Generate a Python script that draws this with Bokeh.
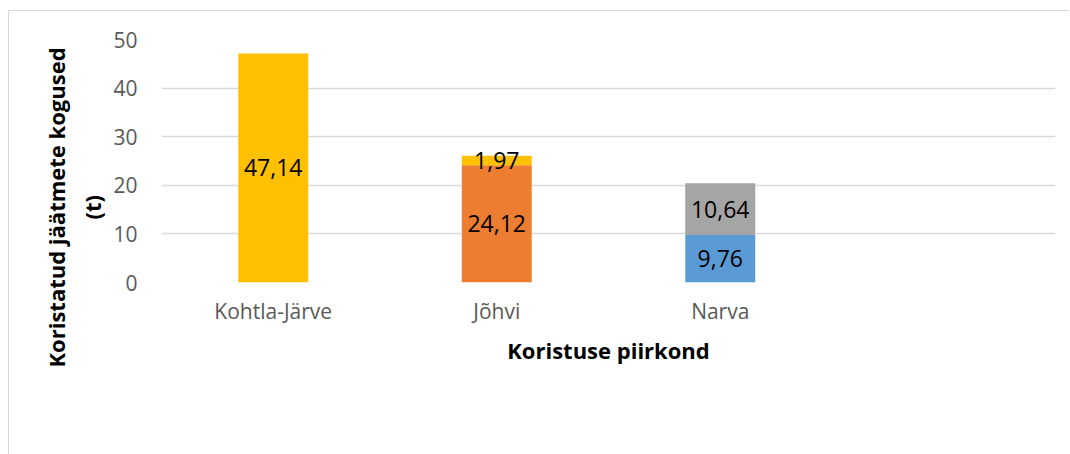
import numpy as np
from bokeh.plotting import figure
from bokeh.models import (ColumnDataSource, FactorRange, Range1d, FixedTicker,
                          Legend, LegendItem, LabelSet, Title)
from bokeh.core.properties import value
from bokeh.embed import file_html
from bokeh.resources import INLINE

# ---- data ----
categories = ["Kohtla-Järve", "Jõhvi", "Narva", " "]
years = ["2013", "2014", "2015", "2017"]
v2013 = [0, 0, 9.76, 0]
v2014 = [0, 24.12, 0, 0]
v2015 = [0, 0, 10.64, 0]
v2017 = [47.14, 1.97, 0, 0]
colors = ["#5B9BD5", "#ED7D31", "#A5A5A5", "#FFC000"]
y_ticks = [0, 10, 20, 30, 40, 50]
y_title = "Koristatud jäätmete kogused"
y_unit = "(t)"
x_title = "Koristuse piirkond"

series = [v2013, v2014, v2015, v2017]
data = {"cat": categories}
for y, s in zip(years, series):
    data[y] = s
src = ColumnDataSource(data)

FONT = "Open Sans"

p = figure(x_range=FactorRange(*categories, range_padding=0),
           y_range=Range1d(0, 50),
           frame_width=894, frame_height=243,
           output_backend="svg", toolbar_location=None,
           min_border_left=152, min_border_right=14,
           min_border_top=28, min_border_bottom=171)
p.styles = {"border-top": "1px solid #d9d9d9", "border-left": "1px solid #d9d9d9",
            "margin-top": "10px", "margin-left": "8px"}
p.outline_line_color = None
p.background_fill_color = "white"
p.border_fill_color = "white"

renderers = p.vbar_stack(years, x="cat", width=0.313, color=colors,
                         line_color=None, source=src)

# data labels
lab_x, lab_y, lab_t = [], [], []
bottom = np.zeros(len(categories))
for s in series:
    arr = np.array(s, dtype=float)
    for i, v in enumerate(arr):
        if v > 0:
            lab_x.append(categories[i])
            lab_y.append(bottom[i] + v / 2)
            lab_t.append(f"{v:.2f}".replace(".", ","))
    bottom += arr
lsrc = ColumnDataSource(dict(x=lab_x, y=lab_y, t=lab_t))
p.add_layout(LabelSet(x="x", y="y", text="t", source=lsrc,
                      text_align="center", text_baseline="middle",
                      text_font=value(FONT), text_font_size="23px",
                      text_color="#000000"))

# grid
p.xgrid.grid_line_color = None
p.ygrid.grid_line_color = "#d9d9d9"
p.ygrid.grid_line_width = 1.5
p.yaxis.ticker = FixedTicker(ticks=y_ticks)

# axes
for ax in (p.xaxis[0], p.yaxis[0]):
    ax.axis_line_color = None
    ax.major_tick_line_color = None
    ax.minor_tick_line_color = None
    ax.major_tick_in = 0
    ax.major_tick_out = 0
    ax.minor_tick_in = 0
    ax.minor_tick_out = 0
    ax.major_label_text_font = FONT
    ax.major_label_text_font_size = "21px"
    ax.major_label_text_color = "#595959"
    ax.axis_label_text_font = FONT
    ax.axis_label_text_font_size = "22px"
    ax.axis_label_text_font_style = "bold"
    ax.axis_label_text_color = "#000000"

p.yaxis.major_label_standoff = 24

p.xaxis.major_label_standoff = 14
p.xaxis.axis_label = x_title
p.xaxis.axis_label_standoff = 7

# y axis title (two lines) as left-side titles
t_unit = Title(text=y_unit, align="left", offset=63, standoff=8,
               text_font=FONT, text_font_size="22px", text_font_style="bold",
               text_color="#000000")
t_main = Title(text=y_title, align="left", offset=-85, standoff=0,
               text_font=FONT, text_font_size="22px", text_font_style="bold",
               text_color="#000000")
p.add_layout(t_unit, "left")
p.add_layout(t_main, "left")

# legend
legend = Legend(items=[LegendItem(label=y, renderers=[r]) for y, r in zip(years, renderers)],
                orientation="horizontal", location=(225, 19),
                padding=0, margin=0, spacing=21, label_standoff=7,
                glyph_width=14, glyph_height=14, label_height=20,
                label_text_font=FONT, label_text_font_size="20px",
                label_text_color="#595959", label_text_baseline="middle",
                border_line_color=None, background_fill_alpha=0)
p.add_layout(legend, "below")

open("out.html", "w").write(file_html(p, INLINE))
